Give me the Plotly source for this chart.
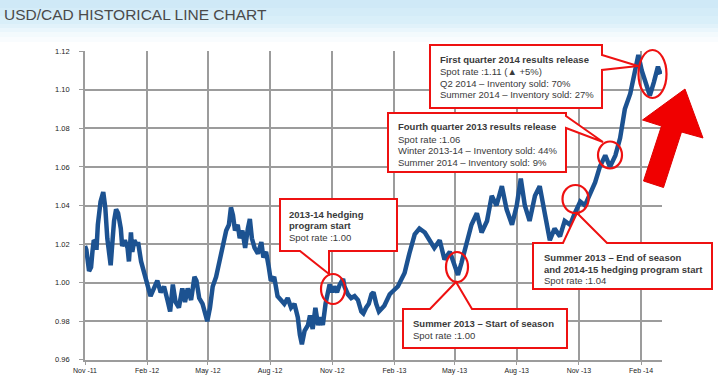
import plotly.graph_objects as go

# ---------------- data ----------------
dates = [
    "2011-11-01", "2011-11-03", "2011-11-07", "2011-11-10", "2011-11-12", "2011-11-14", "2011-11-17",
    "2011-11-18", "2011-11-20", "2011-11-24", "2011-11-28", "2011-12-01", "2011-12-04", "2011-12-07",
    "2011-12-09", "2011-12-12", "2011-12-14", "2011-12-17", "2011-12-20", "2011-12-24", "2011-12-26",
    "2011-12-30", "2012-01-03", "2012-01-05", "2012-01-08", "2012-01-10", "2012-01-13", "2012-01-16",
    "2012-01-19", "2012-01-23", "2012-01-27", "2012-02-01", "2012-02-06", "2012-02-11", "2012-02-16",
    "2012-02-21", "2012-02-26", "2012-03-02", "2012-03-06", "2012-03-10", "2012-03-14", "2012-03-19",
    "2012-03-24", "2012-03-28", "2012-04-01", "2012-04-06", "2012-04-11", "2012-04-14", "2012-04-18",
    "2012-04-23", "2012-04-27", "2012-04-30", "2012-05-04", "2012-05-08", "2012-05-13", "2012-05-18",
    "2012-05-23", "2012-05-28", "2012-06-01", "2012-06-04", "2012-06-07", "2012-06-10", "2012-06-14",
    "2012-06-17", "2012-06-21", "2012-06-25", "2012-06-29", "2012-07-02", "2012-07-05", "2012-07-09",
    "2012-07-14", "2012-07-19", "2012-07-22", "2012-07-26", "2012-07-30", "2012-08-02", "2012-08-07",
    "2012-08-12", "2012-08-17", "2012-08-22", "2012-08-27", "2012-09-01", "2012-09-06", "2012-09-11",
    "2012-09-14", "2012-09-17", "2012-09-21", "2012-09-26", "2012-09-29", "2012-10-03", "2012-10-07",
    "2012-10-11", "2012-10-14", "2012-10-18", "2012-10-22", "2012-10-24", "2012-10-28", "2012-11-01",
    "2012-11-04", "2012-11-08", "2012-11-12", "2012-11-17", "2012-11-19", "2012-11-24", "2012-11-29",
    "2012-12-04", "2012-12-09", "2012-12-14", "2012-12-17", "2012-12-21", "2012-12-25", "2012-12-29",
    "2013-01-01", "2013-01-05", "2013-01-09", "2013-01-17", "2013-01-25", "2013-02-06", "2013-02-16",
    "2013-02-23", "2013-03-03", "2013-03-10", "2013-03-18", "2013-03-25", "2013-04-01", "2013-04-09",
    "2013-04-16", "2013-04-24", "2013-05-01", "2013-05-06", "2013-05-11", "2013-05-19", "2013-05-26",
    "2013-06-03", "2013-06-10", "2013-06-18", "2013-06-25", "2013-07-02", "2013-07-10", "2013-07-17",
    "2013-07-25", "2013-08-01", "2013-08-07", "2013-08-13", "2013-08-20", "2013-08-28", "2013-09-04",
    "2013-09-12", "2013-09-19", "2013-09-26", "2013-10-04", "2013-10-11", "2013-10-19", "2013-10-26",
    "2013-11-03", "2013-11-10", "2013-11-17", "2013-11-25", "2013-12-02", "2013-12-10", "2013-12-17",
    "2013-12-25", "2014-01-01", "2014-01-08", "2014-01-16", "2014-01-23", "2014-01-28", "2014-02-02",
    "2014-02-08", "2014-02-14", "2014-02-20", "2014-02-26", "2014-03-02",
]
usdcad = [
    1.019, 1.017, 1.006, 1.008, 1.016, 1.022, 1.021,
    1.017, 1.030, 1.042, 1.047, 1.039, 1.023, 1.013,
    1.009, 1.023, 1.032, 1.038, 1.036, 1.028, 1.019,
    1.022, 1.018, 1.011, 1.026, 1.016, 1.022, 1.020,
    1.020, 1.011, 1.006, 0.999, 0.993, 0.997, 1.001,
    0.995, 0.998, 0.991, 0.985, 0.999, 0.990, 0.987,
    0.997, 0.990, 0.997, 0.991, 1.003, 1.001, 0.992,
    0.989, 0.983, 0.980, 0.987, 0.998, 1.003, 1.011,
    1.020, 1.027, 1.030, 1.039, 1.035, 1.027, 1.030,
    1.023, 1.027, 1.018, 1.028, 1.033, 1.023, 1.018,
    1.015, 1.021, 1.013, 1.016, 1.008, 1.001, 1.003,
    0.993, 0.991, 0.989, 0.992, 0.987, 0.989, 0.982,
    0.973, 0.968, 0.975, 0.978, 0.983, 0.976, 0.987,
    0.978, 0.982, 0.978, 0.989, 0.992, 0.999, 0.995,
    0.998, 0.995, 0.999, 1.002, 0.998, 0.994, 0.992,
    0.993, 0.991, 0.985, 0.984, 0.987, 0.989, 0.994,
    0.995, 0.989, 0.985, 0.988, 0.994, 0.998, 1.005,
    1.015, 1.025, 1.028, 1.026, 1.022, 1.018, 1.022,
    1.012, 1.016, 1.008, 1.004, 1.010, 1.022, 1.030,
    1.036, 1.026, 1.032, 1.045, 1.040, 1.050, 1.038,
    1.030, 1.040, 1.054, 1.040, 1.032, 1.045, 1.050,
    1.035, 1.022, 1.028, 1.024, 1.032, 1.030, 1.036,
    1.042, 1.040, 1.046, 1.052, 1.060, 1.066, 1.060,
    1.066, 1.075, 1.090, 1.098, 1.110, 1.118, 1.110,
    1.103, 1.097, 1.104, 1.112, 1.108,
]
y_ticks = [0.96, 0.98, 1.00, 1.02, 1.04, 1.06, 1.08, 1.10, 1.12]

title_text = "USD/CAD HISTORICAL LINE CHART"
callouts = [
    [("<b>2013-14 hedging</b>", 214), ("<b>program start</b>", 225.5), ("Spot rate :1.00", 237)],
    [("<b>Summer 2013 \u2013 Start of season</b>", 323.5), ("Spot rate :1.00", 335)],
    [("<b>First quarter 2014 results release</b>", 59.5), ("Spot rate :1.11 (\u25b2 +5%)", 71.5),
     ("Q2 2014 \u2013 Inventory sold: 70%", 83.3), ("Summer 2014 \u2013 Inventory sold: 27%", 94.5)],
    [("<b>Fourth quarter 2013 results release</b>", 126.7), ("Spot rate :1.06", 139),
     ("Winter 2013-14 \u2013 Inventory sold: 44%", 150.7), ("Summer 2014 \u2013 Inventory sold: 9%", 162)],
    [("<b>Summer 2013 \u2013 End of season</b>", 257.3), ("<b>and 2014-15 hedging program start</b>", 269),
     ("Spot rate :1.04", 280.5)],
]
text_left = [287, 411, 438, 396, 542]

# ---------------- layout geometry (pixels) ----------------
W, H = 718, 381
PL, PR, PT, PB = 85, 662, 51, 360


def px(x):
    return (x - PL) / (PR - PL)


def py(y):
    return (PB - y) / (PB - PT)


def path(points):
    return "M " + " L ".join(f"{px(x):.5f},{py(y):.5f}" for x, y in points) + " Z"


bubbles = [
    [(280, 199), (397, 199), (397, 251), (329, 251), (329, 274), (300, 251), (280, 251)],
    [(403, 309), (430, 309), (456, 282), (472, 309), (567, 309), (567, 348), (403, 348)],
    [(430, 45), (602, 45), (602, 55), (638, 66), (602, 70), (602, 108), (430, 108)],
    [(388, 113), (566, 113), (566, 116), (603, 142), (566, 128), (566, 172), (388, 172)],
    [(533, 243), (563, 243), (577, 213), (607, 243), (712, 243), (712, 289), (533, 289)],
]
ellipses = [(333, 289, 12, 15), (457, 267, 11, 15), (652.5, 74, 14, 24), (610, 155, 12, 13.5),
            (575.5, 199, 13, 14)]
arrow = [(643.5, 181), (661.5, 126), (642.5, 120), (685, 89), (703, 138),
         (681.5, 132), (663.5, 187.5)]

RED = "#ee1111"
TXT = "#3a3a3a"
GRID = "#9c9c9c"

fig = go.Figure()
fig.add_trace(go.Scatter(
    x=dates, y=usdcad, mode="lines",
    line=dict(color="#1c5291", width=4.5, shape="linear"),
    hoverinfo="skip", showlegend=False,
))

shapes = []
# header gradient band
bands = [(0, 8, "#cfe9f7"), (8, 16, "#d4ecf8"), (16, 24, "#d9eff9"), (24, 28, "#e1f2fa"),
         (28, 32, "#eaf6fc"), (32, 37, "#f3fafd"), (37, 42, "#f9fcfe")]
for y0, y1, c in bands:
    shapes.append(dict(type="rect", xref="paper", yref="paper", x0=px(0), x1=px(W),
                       y0=py(y1), y1=py(y0), fillcolor=c, line=dict(width=0), layer="below"))
for pts in bubbles:
    shapes.append(dict(type="path", xref="paper", yref="paper", path=path(pts),
                       fillcolor="white", line=dict(color=RED, width=2), layer="above"))
for cx, cy, rx, ry in ellipses:
    shapes.append(dict(type="circle", xref="paper", yref="paper", x0=px(cx - rx), x1=px(cx + rx),
                       y0=py(cy + ry), y1=py(cy - ry), line=dict(color=RED, width=2.2),
                       fillcolor="rgba(0,0,0,0)", layer="above"))
shapes.append(dict(type="path", xref="paper", yref="paper", path=path(arrow),
                   fillcolor="#f00000", line=dict(color="#e00000", width=1), layer="above"))

annotations = [dict(text=title_text, xref="paper", yref="paper", x=px(2), y=py(4),
                    xanchor="left", yanchor="top", showarrow=False,
                    font=dict(family="Liberation Sans, Arial", size=15.5, color="#4a4a4a"))]
for lines, xl in zip(callouts, text_left):
    for t, yc in lines:
        annotations.append(dict(text=t, xref="paper", yref="paper", x=px(xl), y=py(yc),
                                xanchor="left", yanchor="middle", showarrow=False,
                                font=dict(family="Liberation Sans, Arial", size=9.5, color=TXT)))

fig.update_layout(
    width=W, height=H,
    margin=dict(l=PL, r=W - PR, t=PT, b=H - PB),
    paper_bgcolor="white", plot_bgcolor="white",
    shapes=shapes, annotations=annotations,
    xaxis=dict(
        type="date", range=["2011-11-01", "2014-03-04"],
        tick0="2011-11-01", dtick="M3", tickformat="%b -%y",
        showgrid=True, gridcolor=GRID, gridwidth=1.6,
        showline=True, linecolor=GRID, linewidth=1.6,
        ticks="outside", ticklen=3, tickcolor=GRID,
        tickfont=dict(family="Liberation Sans, Arial", size=7, color="#222"),
        zeroline=False, fixedrange=True, automargin=False,
    ),
    yaxis=dict(
        range=[0.9599, 1.1201], tickvals=y_ticks, tickformat=".2f",
        showgrid=True, gridcolor=GRID, gridwidth=1.6,
        showline=True, linecolor=GRID, linewidth=1.6,
        ticks="outside", ticklen=4, tickcolor=GRID, ticklabelstandoff=8,
        tickfont=dict(family="Liberation Sans, Arial", size=7.5, color="#222"),
        zeroline=False, fixedrange=True, automargin=False,
    ),
)

fig.write_html("out.html", config={"displayModeBar": False},
               post_script="document.body.style.margin='0px';document.body.style.overflow='hidden';")
